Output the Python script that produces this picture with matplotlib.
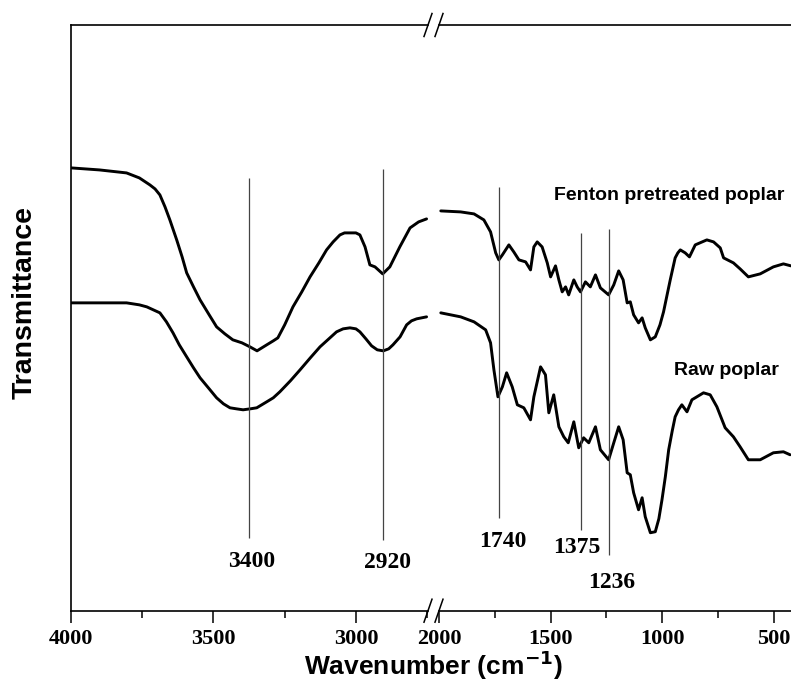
import matplotlib
matplotlib.use("Agg")
import matplotlib.pyplot as plt
from matplotlib.ticker import MultipleLocator

# ---- data (wavenumber cm-1, transmittance a.u.) ----
fenton_hi_wn = [3998, 3900, 3805, 3760, 3723, 3705, 3688, 3670, 3653, 3629, 3610, 3594, 3570,
                3547, 3515, 3489, 3460, 3432, 3400, 3372, 3347, 3313, 3290, 3274, 3250, 3221,
                3190, 3161, 3130, 3103, 3080, 3056, 3040, 3021, 3000, 2986, 2968, 2951, 2933,
                2906, 2881, 2846, 2810, 2780, 2752]
fenton_hi_t = [439, 437, 434, 429, 422, 418, 412, 400, 387, 367, 350, 334, 320,
               307, 292, 280, 273, 267, 264, 260, 256, 262, 266, 269, 282, 300,
               315, 330, 344, 357, 365, 372, 374, 374, 374, 372, 360, 342, 340,
               333, 340, 360, 379, 385, 388]
raw_hi_wn = [3998, 3900, 3805, 3760, 3734, 3688, 3665, 3642, 3620, 3594, 3570, 3547, 3515,
             3489, 3465, 3442, 3420, 3396, 3370, 3348, 3313, 3290, 3267, 3230, 3196, 3160,
             3126, 3095, 3068, 3045, 3021, 3000, 2986, 2965, 2945, 2925, 2904, 2885, 2870,
             2845, 2822, 2805, 2787, 2752]
raw_hi_t = [304, 304, 304, 302, 300, 294, 285, 274, 262, 250, 239, 229, 218,
            209, 203, 199, 198, 197, 198, 199, 205, 209, 215, 226, 237, 249,
            260, 268, 275, 278, 279, 278, 275, 268, 261, 257, 256, 258, 262,
            270, 282, 286, 288, 290]

fenton_lo_wn = [1992, 1903, 1843, 1799, 1769, 1746, 1732, 1716, 1687, 1665, 1642, 1612, 1590,
                1575, 1560, 1538, 1515, 1500, 1478, 1463, 1448, 1433, 1419, 1396, 1381, 1366,
                1344, 1322, 1299, 1277, 1240, 1217, 1195, 1175, 1157, 1143, 1128, 1106, 1090,
                1076, 1053, 1031, 1010, 994, 980, 964, 953, 942, 930, 919, 897, 878, 852, 800,
                770, 740, 725, 681, 651, 614, 561, 502, 457, 423]
fenton_lo_t = [396, 395, 393, 387, 375, 354, 347, 352, 362, 355, 347, 345, 337,
               360, 365, 360, 344, 330, 341, 327, 315, 320, 312, 327, 320, 315,
               325, 320, 332, 319, 312, 322, 336, 327, 304, 305, 292, 284, 289,
               279, 267, 270, 282, 295, 310, 327, 338, 349, 354, 357, 354, 350, 362, 367,
               365, 359, 349, 344, 338, 330, 333, 340, 343, 341]
raw_lo_wn = [1992, 1903, 1843, 1791, 1769, 1754, 1736, 1716, 1697, 1672, 1649, 1620, 1590,
             1575, 1545, 1523, 1508, 1486, 1463, 1441, 1421, 1396, 1374, 1352, 1329, 1299,
             1277, 1240, 1217, 1195, 1175, 1157, 1143, 1128, 1106, 1090, 1076, 1053, 1031,
             1015, 1001, 986, 971, 955, 942, 927, 912, 889, 867, 815, 785, 755, 718, 681,
             651, 614, 561, 502, 457, 427]
raw_lo_t = [294, 290, 285, 277, 264, 237, 210, 220, 234, 220, 202, 199, 187,
            210, 240, 232, 194, 212, 180, 170, 164, 185, 159, 169, 164, 180,
            157, 147, 164, 180, 167, 134, 132, 114, 97, 109, 90, 74, 75,
            88, 107, 130, 157, 176, 190, 197, 202, 195, 207, 214, 212, 200, 179, 170,
            160, 147, 147, 154, 155, 152]

# reference lines: position, bottom, top ; labels: text, x, y
band_pos = [3374, 2905, 1732, 1366, 1237]
band_bottom = [69, 67, 89, 77, 52]
band_top = [429, 438, 420, 374, 378]
band_labels = ["3400", "2920", "1740", "1375", "1236"]
label_x = [3366, 2888, 1712, 1384, 1225]
label_y = [45, 44, 65, 59, 24]

sample_names = ["Fenton pretreated poplar", "Raw poplar"]
sample_x = [969, 713]
sample_y = [411, 236]

W, H = 791, 700
fig = plt.figure(figsize=(W / 100, H / 100), dpi=100)
bot = 1 - 610.7 / H
top = 1 - 25 / H
axL = fig.add_axes([71 / W, bot, (428 - 71) / W, top - bot])
axR = fig.add_axes([439 / W, bot, (W - 439) / W, top - bot], sharey=axL)

sans = "Liberation Sans"
serif = "Liberation Serif"
lw_curve = 2.1
for ax in (axL, axR):
    ax.set_ylim(-4, 582)
    ax.tick_params(axis="y", left=False, right=False, labelleft=False)
    ax.tick_params(axis="x", which="major", direction="out", length=8.5, width=1.1, pad=5)
    ax.tick_params(axis="x", which="minor", direction="out", length=5, width=1.1)
    ax.spines["right"].set_visible(False)
    for s in ("top", "bottom", "left"):
        ax.spines[s].set_linewidth(1.2)

axR.spines["left"].set_visible(False)

axL.set_xlim(4000, 2747)
axR.set_xlim(2000, 423)
for ax in (axL, axR):
    ax.xaxis.set_major_locator(MultipleLocator(500))
    ax.xaxis.set_minor_locator(MultipleLocator(250))
    for lab in ax.get_xticklabels():
        lab.set_fontfamily(serif)
        lab.set_fontweight("bold")
        lab.set_fontsize(16)

for ax, xs, ys in ((axL, fenton_hi_wn, fenton_hi_t), (axL, raw_hi_wn, raw_hi_t),
                   (axR, fenton_lo_wn, fenton_lo_t), (axR, raw_lo_wn, raw_lo_t)):
    ax.plot(xs, ys, color="black", lw=lw_curve, solid_joinstyle="round",
            solid_capstyle="round")

for p, b, t, lab, lx, ly in zip(band_pos, band_bottom, band_top, band_labels, label_x, label_y):
    ax = axL if p > 2200 else axR
    ax.vlines(p, b, t, color="#444444", lw=0.9)
    ax.text(lx, ly, lab, ha="center", va="center", fontfamily=serif,
            fontweight="bold", fontsize=17)

for name, sx, sy in zip(sample_names, sample_x, sample_y):
    axR.text(sx, sy, name, ha="center", va="center", fontfamily=sans,
             fontweight="bold", fontsize=14)

# break marks
def slash(ax, xa, wpx):
    dx = 4 / wpx
    dy = 11.5 / 585.7
    for ya in (0, 1):
        ax.plot([xa - dx, xa + dx], [ya - dy, ya + dy], transform=ax.transAxes,
                color="black", lw=1.1, clip_on=False)

slash(axL, 1, 357)
slash(axR, 0, 352)

fig.text(25 / W, 1 - 302 / H, "Transmittance", rotation=90, ha="center", va="center",
         fontfamily=sans, fontweight="bold", fontsize=20.5)
fig.text(433 / W, 1 - 665 / H, "Wavenumber (cm$^{\\mathbf{-1}}$)", ha="center", va="center",
         fontfamily=sans, fontweight="bold", fontsize=19)

fig.savefig("out.png", dpi=100, facecolor="white")
